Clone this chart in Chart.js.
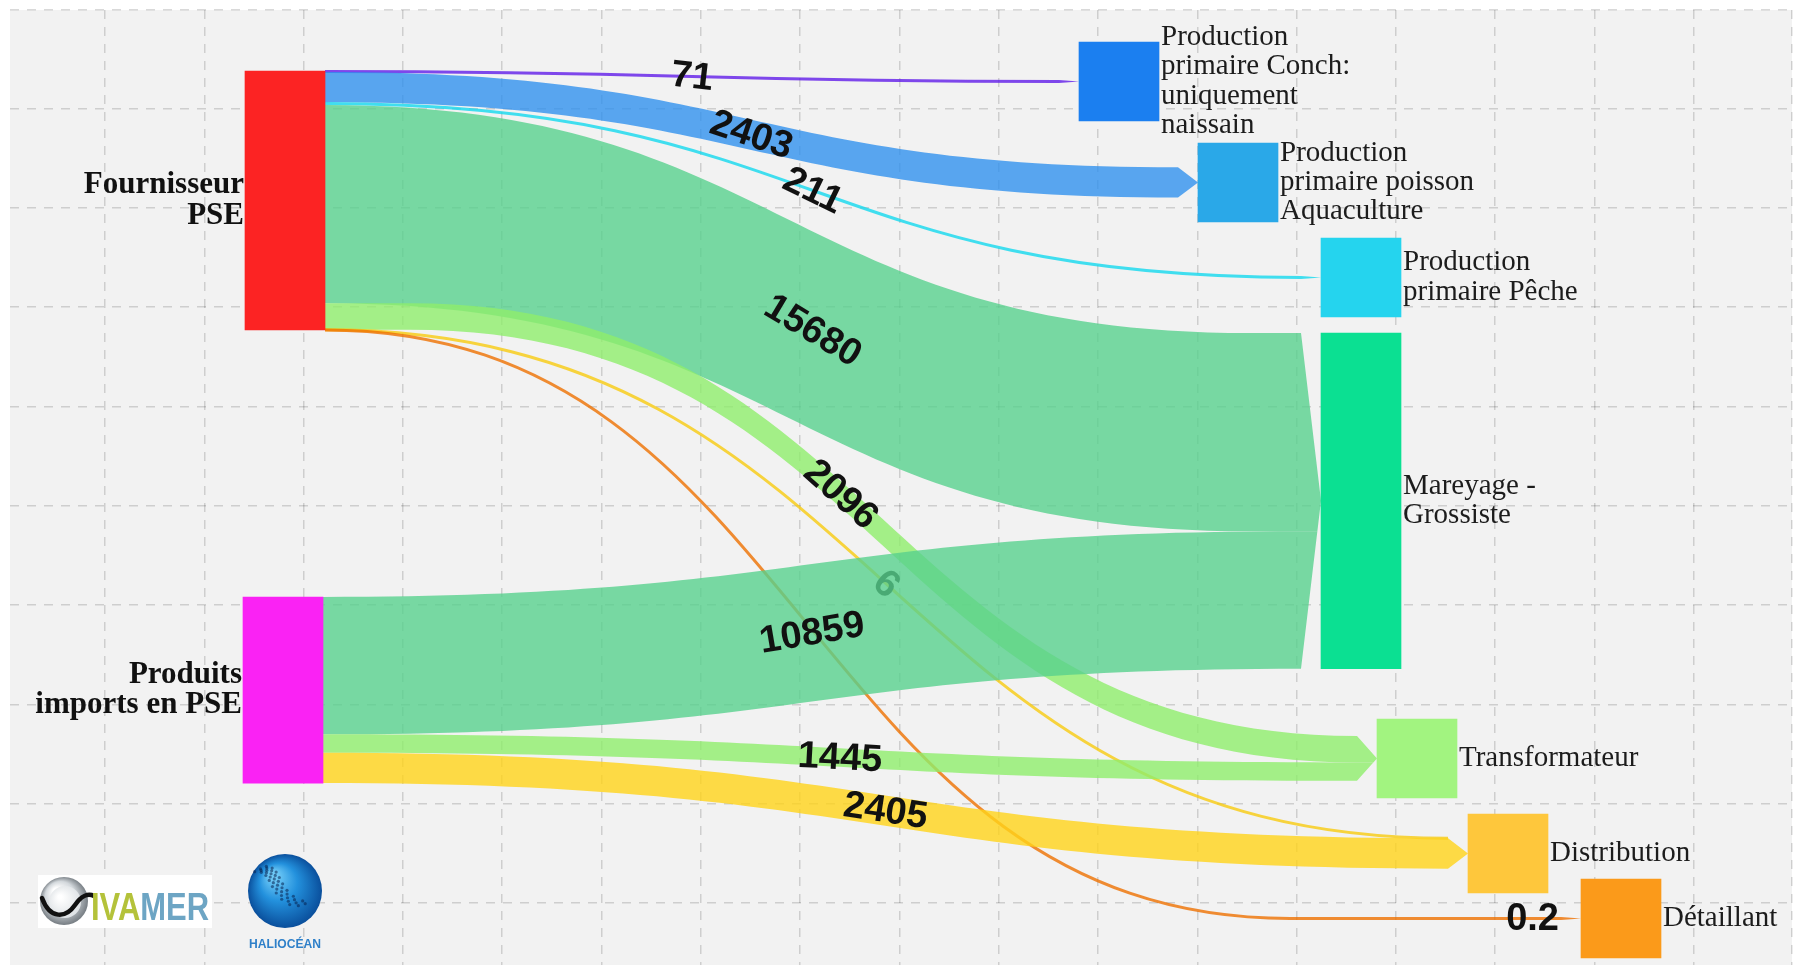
<!DOCTYPE html>
<html><head><meta charset="utf-8">
<script src="https://cdn.jsdelivr.net/npm/chart.js@4.4.1/dist/chart.umd.min.js"></script>
<style>html,body{margin:0;padding:0;background:#fff;overflow:hidden}canvas{display:block}</style>
</head><body>
<canvas id="c" width="1800" height="965"></canvas>
<script>
// ---------------- DATA ----------------
const nodeLabels = [
  ['Fournisseur', 'PSE'],
  ['Produits', 'imports en PSE'],
  ['Production', 'primaire Conch:', 'uniquement', 'naissain'],
  ['Production', 'primaire poisson', 'Aquaculture'],
  ['Production', 'primaire Pêche'],
  ['Mareyage -', 'Grossiste'],
  ['Transformateur'],
  ['Distribution'],
  ['Détaillant']
];
const linkSources = [0, 0, 0, 0, 0, 0, 0, 1, 1, 1];
const linkTargets = [2, 3, 4, 5, 6, 7, 8, 5, 6, 7];
const linkValues  = [71, 2403, 211, 15680, 2096, 6, 0.2, 10859, 1445, 2405];
const linkLabels  = ['71', '2403', '211', '15680', '2096', '6', '0.2', '10859', '1445', '2405'];

// ---------------- LAYOUT (x: layout axis units, y: flow units) ----------------
const nodeX   = [235, 233, 1069, 1188, 1311, 1311, 1367, 1458, 1571];
const nodeTop = [4822, 46407, 2530, 10515, 18025, 25536, 56052, 63562, 68701];
const MIN_NODE = 6230;   // minimum drawn node height (flow units)
const NODE_W = 80;       // node width (layout units)
const ARROW = 20;        // arrow length (px)
const MIN_PX = 3;        // minimum drawn link thickness (px)
const linkCurveFrom = [null, null, null, null, 400, null, null, null, null, null];
const linkCurveTo   = [null, null, null, 1240, null, null, 1280, null, null, null];
const linkLabelAt   = [0.5, 0.5, 0.5, 0.5, 0.5, 0.5, 0.977, 0.5, 0.5, 0.5];
const linkLabelTilt = [5, 6, 6, 5, 0, 0, 0, -2, 0, 0];   // extra label rotation (deg)

// ---------------- STYLE ----------------
const nodeColors = ['#fc2323', '#fa22f4', '#1b7ff0', '#2aa8e8', '#25d4ee', '#0be092', '#a2f480', '#fec73c', '#fb9a1a'];
const linkColors = [
  'rgba(96,27,232,0.8)', 'rgba(49,145,237,0.8)', 'rgba(19,216,237,0.8)', 'rgba(87,209,141,0.8)',
  'rgba(143,237,107,0.8)', 'rgba(247,203,15,0.8)', 'rgba(238,113,0,0.8)', 'rgba(87,209,141,0.8)',
  'rgba(143,237,107,0.8)', 'rgba(255,211,25,0.8)'
];
const xGridTicks = [];
for (let k = 0; k <= 16; k++) xGridTicks.push(95 + 99.3 * k);
xGridTicks.push(1781.5);
const yGridTicks = [0];
for (let k = 0; k <= 8; k++) yGridTicks.push(98.5 + 99.3 * k);

// ---------------- derived ----------------
const N = nodeLabels.length;
const outSum = new Array(N).fill(0), inSum = new Array(N).fill(0);
linkValues.forEach((v, i) => { outSum[linkSources[i]] += v; inSum[linkTargets[i]] += v; });
const nodeH = nodeTop.map((t, n) => Math.max(outSum[n], inSum[n], MIN_NODE));
const inStart = nodeTop.map((t, n) => t + nodeH[n] / 2 - inSum[n] / 2);
const isSource = outSum.map(v => v > 0);

function bez(t, p0, p1, p2, p3) {
  const u = 1 - t;
  return u*u*u*p0 + 3*u*u*t*p1 + 3*u*t*t*p2 + t*t*t*p3;
}

const bgPlugin = {
  id: 'bg',
  beforeDraw(chart) {
    const {ctx, chartArea: a} = chart;
    ctx.save();
    ctx.fillStyle = '#ffffff';
    ctx.fillRect(0, 0, chart.width, chart.height);
    ctx.fillStyle = '#f2f2f2';
    ctx.fillRect(a.left, a.top, a.right - a.left, a.bottom - a.top);
    ctx.restore();
  }
};

const linkPlugin = {
  id: 'sankeyLinks',
  beforeDatasetsDraw(chart) {
    const ctx = chart.ctx, xs = chart.scales.x, ys = chart.scales.y;
    const outCur = nodeTop.slice();
    const inCur = inStart.slice();
    ctx.save();
    linkValues.forEach((v, i) => {
      const s = linkSources[i], t = linkTargets[i];
      let a0 = ys.getPixelForValue(outCur[s]), b0 = ys.getPixelForValue(outCur[s] + v);
      let a1 = ys.getPixelForValue(inCur[t]), b1 = ys.getPixelForValue(inCur[t] + v);
      outCur[s] += v; inCur[t] += v;
      const thin = (b0 - a0) < 4;
      const y0c = (a0 + b0) / 2, y1c = (a1 + b1) / 2;
      const x0 = xs.getPixelForValue(nodeX[s] + NODE_W);
      const tipX = xs.getPixelForValue(nodeX[t]);
      const base = tipX - ARROW;
      const cf = linkCurveFrom[i] != null ? xs.getPixelForValue(linkCurveFrom[i]) : x0;
      const ct = linkCurveTo[i] != null ? xs.getPixelForValue(linkCurveTo[i]) : base;
      const m = (cf + ct) / 2;
      let cTop = ys.getPixelForValue(inStart[t]), cBot = ys.getPixelForValue(inStart[t] + inSum[t]);
      if (cBot - cTop < MIN_PX) { const mm = (cTop + cBot) / 2; cTop = mm - MIN_PX / 2; cBot = mm + MIN_PX / 2; }
      const ac = (cTop + cBot) / 2, ah = (cBot - cTop) / 2;
      const endX = y => base + ARROW * Math.max(0, 1 - Math.abs(y - ac) / ah);

      ctx.fillStyle = linkColors[i];
      ctx.strokeStyle = linkColors[i];
      if (thin) {
        ctx.lineWidth = MIN_PX;
        ctx.lineCap = 'butt';
        ctx.beginPath();
        ctx.moveTo(x0, y0c);
        ctx.lineTo(cf, y0c);
        ctx.bezierCurveTo(m, y0c, m, y1c, ct, y1c);
        ctx.lineTo(base, y1c);
        ctx.stroke();
        const ex = endX(y1c);
        if (ex > base + 1) {
          ctx.beginPath();
          ctx.moveTo(base, y1c - MIN_PX / 2);
          ctx.lineTo(ex, y1c);
          ctx.lineTo(base, y1c + MIN_PX / 2);
          ctx.closePath();
          ctx.fill();
        }
      } else {
        ctx.beginPath();
        ctx.moveTo(x0, a0);
        ctx.lineTo(cf, a0);
        ctx.bezierCurveTo(m, a0, m, a1, ct, a1);
        ctx.lineTo(endX(a1), a1);
        if (a1 < ac && b1 > ac) ctx.lineTo(base + ARROW, ac);
        ctx.lineTo(endX(b1), b1);
        ctx.lineTo(ct, b1);
        ctx.bezierCurveTo(m, b1, m, b0, cf, b0);
        ctx.lineTo(x0, b0);
        ctx.closePath();
        ctx.fill();
      }
      // label
      const lx = x0 + linkLabelAt[i] * (base - x0);
      let ly, ang = 0;
      if (lx <= cf) ly = y0c;
      else if (lx >= ct) ly = y1c;
      else {
        let lo = 0, hi = 1;
        for (let k = 0; k < 50; k++) {
          const tm = (lo + hi) / 2;
          if (bez(tm, cf, m, m, ct) < lx) lo = tm; else hi = tm;
        }
        const tt = (lo + hi) / 2;
        ly = bez(tt, y0c, y0c, y1c, y1c);
        const dx = 3 * (m - cf) * ((1 - tt) * (1 - tt) + tt * tt);
        const dy = (y1c - y0c) * 6 * tt * (1 - tt);
        ang = Math.atan2(dy, dx);
      }
      ang += linkLabelTilt[i] * Math.PI / 180;
      ctx.save();
      ctx.translate(lx, ly);
      ctx.rotate(ang);
      ctx.font = 'bold 38px "Liberation Sans", Arial, sans-serif';
      ctx.fillStyle = '#111111';
      ctx.textAlign = 'center';
      ctx.textBaseline = 'middle';
      ctx.fillText(linkLabels[i], 0, 1);
      ctx.restore();
    });
    ctx.restore();
  }
};

const nodeLabelPlugin = {
  id: 'nodeLabels',
  afterDatasetsDraw(chart) {
    const ctx = chart.ctx, xs = chart.scales.x, ys = chart.scales.y;
    ctx.save();
    ctx.textBaseline = 'middle';
    for (let n = 0; n < N; n++) {
      const lines = nodeLabels[n];
      const cy = ys.getPixelForValue(nodeTop[n] + nodeH[n] / 2);
      if (isSource[n]) {
        ctx.font = 'bold 31px "Liberation Serif", "Times New Roman", serif';
        ctx.fillStyle = '#111111';
        ctx.textAlign = 'right';
        const lh = 30.5;
        const x = xs.getPixelForValue(nodeX[n]) - 1;
        lines.forEach((l, j) => ctx.fillText(l, x, cy + (j - (lines.length - 1) / 2) * lh));
      } else {
        ctx.font = '29px "Liberation Serif", "Times New Roman", serif';
        ctx.fillStyle = '#1c1c1c';
        ctx.textAlign = 'left';
        const lh = 29.3;
        const x = xs.getPixelForValue(nodeX[n] + NODE_W) + 2;
        lines.forEach((l, j) => ctx.fillText(l, x, cy + (j - (lines.length - 1) / 2) * lh));
      }
    }
    ctx.restore();
  },
  afterDraw(chart) {
    const ctx = chart.ctx;
    // IVAMER logo
    ctx.save();
    ctx.fillStyle = '#ffffff';
    ctx.fillRect(38, 875, 174, 53);
    const cx = 64, cy = 901;
    let g = ctx.createRadialGradient(cx - 8, cy - 10, 3, cx, cy, 25);
    g.addColorStop(0, '#ffffff'); g.addColorStop(0.55, '#d3d8dc'); g.addColorStop(1, '#6f767c');
    ctx.fillStyle = g;
    ctx.beginPath(); ctx.arc(cx, cy, 24, 0, Math.PI * 2); ctx.fill();
    g = ctx.createRadialGradient(cx - 4, cy - 4, 2, cx, cy, 17);
    g.addColorStop(0, '#ffffff'); g.addColorStop(1, '#dfe3e6');
    ctx.fillStyle = g;
    ctx.beginPath(); ctx.arc(cx + 1, cy + 1, 16, 0, Math.PI * 2); ctx.fill();
    ctx.strokeStyle = '#111'; ctx.lineWidth = 4.5; ctx.lineCap = 'round';
    ctx.beginPath(); ctx.moveTo(42, 898);
    ctx.bezierCurveTo(50, 920, 66, 918, 75, 905);
    ctx.bezierCurveTo(81, 896, 88, 893, 94, 896);
    ctx.stroke();
    ctx.font = 'bold 38px "Liberation Sans", Arial, sans-serif';
    ctx.textBaseline = 'alphabetic';
    const w1 = ctx.measureText('IVA').width, w2 = ctx.measureText('MER').width;
    ctx.translate(91, 920);
    ctx.scale(118 / (w1 + w2), 1);
    ctx.fillStyle = '#b4c23a'; ctx.fillText('IVA', 0, 0);
    ctx.fillStyle = '#6da5c4'; ctx.fillText('MER', w1, 0);
    ctx.restore();
    // HALIOCEAN logo
    ctx.save();
    const hx = 285, hy = 891, r = 37;
    g = ctx.createRadialGradient(hx - 12, hy - 16, 4, hx, hy, r);
    g.addColorStop(0, '#6fcaf7'); g.addColorStop(0.45, '#2391dd'); g.addColorStop(1, '#0a4f9c');
    ctx.fillStyle = g;
    ctx.beginPath(); ctx.arc(hx, hy, r, 0, Math.PI * 2); ctx.fill();
    ctx.fillStyle = 'rgba(8,35,80,0.55)';
    for (let k = 0; k < 40; k++) {
      const tt = k / 39;
      const px = bez(tt, hx - 26, hx - 5, hx - 15, hx + 18);
      const py = bez(tt, hy - 22, hy - 24, hy + 6, hy + 14);
      const off = ((k * 7) % 5 - 2) * 2.2;
      ctx.beginPath(); ctx.arc(px + off, py - off * 0.6, 1.6, 0, Math.PI * 2); ctx.fill();
    }
    ctx.font = 'bold 13px "Liberation Sans", Arial, sans-serif';
    const hw = ctx.measureText('HALIOCÉAN').width;
    ctx.translate(hx, 944);
    ctx.scale(72 / hw, 1);
    ctx.fillStyle = '#2f80c9';
    ctx.textAlign = 'center';
    ctx.textBaseline = 'middle';
    ctx.fillText('HALIOCÉAN', 0, 0);
    ctx.restore();
  }
};

new Chart(document.getElementById('c'), {
  type: 'bar',
  data: {
    datasets: [{
      data: nodeLabels.map((_, n) => ({x: nodeX[n] + NODE_W / 2, y: [nodeTop[n], nodeTop[n] + nodeH[n]]})),
      backgroundColor: nodeColors,
      borderWidth: 0,
      barThickness: NODE_W,
      xAxisID: 'x',
      yAxisID: 'y'
    }]
  },
  options: {
    responsive: false,
    animation: false,
    events: [],
    layout: {padding: {left: 10, right: 8, top: 10, bottom: 0}},
    plugins: {legend: {display: false}, tooltip: {enabled: false}},
    scales: {
      x: {
        type: 'linear', min: 0, max: 1782, offset: false, position: 'bottom',
        ticks: {display: false},
        grid: {color: 'rgba(0,0,0,0.15)', lineWidth: 1.5, drawTicks: false, offset: false},
        border: {display: false, dash: [9, 8]},
        afterBuildTicks: s => { s.ticks = xGridTicks.map(v => ({value: v})); }
      },
      y: {type: 'linear', min: 0, max: 75500, reverse: true, display: false},
      gy: {
        type: 'linear', min: 0, max: 955, reverse: true, position: 'left',
        ticks: {display: false},
        grid: {color: 'rgba(0,0,0,0.15)', lineWidth: 1.5, drawTicks: false},
        border: {display: false, dash: [9, 8]},
        afterBuildTicks: s => { s.ticks = yGridTicks.map(v => ({value: v})); }
      }
    }
  },
  plugins: [bgPlugin, linkPlugin, nodeLabelPlugin]
});
</script>
</body></html>
